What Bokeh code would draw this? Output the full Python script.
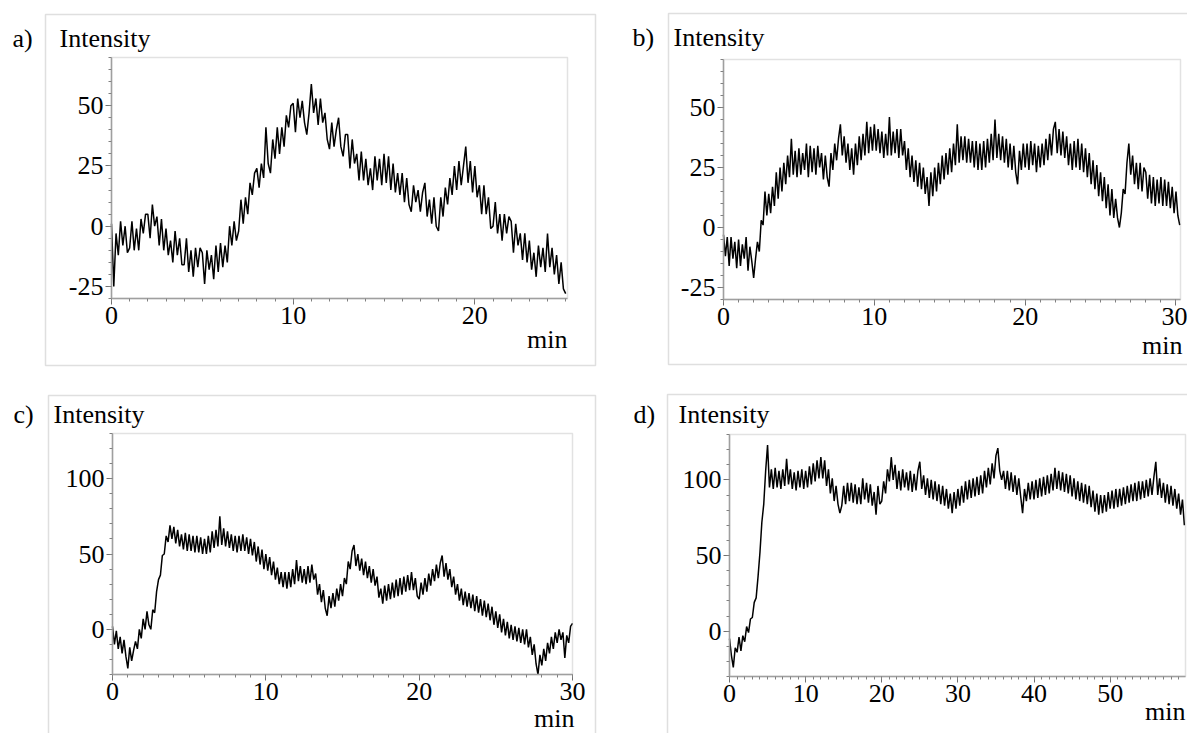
import numpy as np
from bokeh.plotting import figure
from bokeh.models import FixedTicker, Label, BoxAnnotation, Range1d
from bokeh.layouts import column, row
from bokeh.embed import file_html
from bokeh.resources import INLINE

# ---------------- data ----------------
# panel a: intensity sampled every 0.125 min, 0 .. 25 min
a_end = 25.0
a_vals = [1, -25, -3, -12, 2, -8, 0, -11,
          -9, 2, -10, -1, -10, 3, -3, 5,
          5, -5, 9, 0, 4, -8, 3, -10,
          -1, -12, -6, -15, -2, -12, -5, -16,
          -16, -5, -19, -10, -21, -9, -17, -9,
          -11, -24, -10, -18, -12, -22, -8, -19,
          -7, -17, -8, -15, 0, -8, 2, -6,
          -2, 11, 1, 12, 5, 18, 13, 22,
          24, 16, 26, 20, 41, 26, 22, 36,
          28, 41, 30, 41, 33, 46, 41, 50,
          51, 39, 53, 45, 52, 43, 38, 47,
          59, 47, 53, 42, 53, 43, 47, 36,
          32, 43, 33, 40, 45, 33, 29, 38,
          38, 24, 36, 26, 30, 19, 31, 19,
          28, 17, 24, 15, 29, 19, 28, 17,
          30, 18, 29, 15, 26, 14, 22, 13,
          22, 10, 20, 9, 6, 17, 10, 15,
          6, 14, 18, 4, 11, 1, 12, 0,
          -2, 12, 4, 16, 9, 20, 13, 25,
          15, 27, 17, 25, 33, 18, 27, 14,
          25, 12, 17, 5, 17, 5, 12, -1,
          0, 10, -3, 5, -6, 5, -3, 4,
          2, -11, 1, -8, -3, -14, -3, -15,
          -6, -18, -11, -21, -8, -17, -9, -19,
          -3, -17, -9, -20, -12, -24, -15, -26,
          -28]

# panel b: every 0.125 min, 0 .. 30.25 min
b_end = 30.25
b_vals = [-3, -12, -4, -16, -4, -13, -6, -17,
          -5, -16, -7, -13, -4, -18, -8, -14,
          -21, -13, -6, -10, 3, 1, 15, 5,
          14, 6, 17, 9, 23, 12, 25, 15,
          27, 18, 30, 21, 37, 22, 32, 21,
          33, 22, 31, 24, 35, 21, 34, 23,
          33, 22, 34, 25, 31, 20, 30, 21,
          17, 31, 24, 35, 28, 37, 43, 30,
          38, 27, 35, 24, 33, 22, 35, 26,
          38, 28, 39, 30, 44, 31, 42, 32,
          43, 32, 41, 31, 40, 29, 39, 30,
          46, 30, 40, 31, 41, 29, 41, 30,
          36, 24, 33, 21, 30, 19, 28, 17,
          27, 16, 25, 14, 21, 9, 23, 13,
          25, 15, 27, 18, 30, 20, 31, 22,
          33, 23, 35, 26, 43, 27, 38, 28,
          38, 27, 37, 27, 36, 25, 36, 24,
          35, 24, 36, 25, 37, 27, 39, 28,
          45, 29, 39, 28, 38, 27, 37, 25,
          35, 24, 34, 23, 18, 32, 24, 35,
          25, 35, 24, 36, 26, 35, 23, 34,
          25, 35, 26, 37, 28, 39, 30, 41,
          44, 31, 41, 30, 40, 29, 38, 26,
          35, 24, 36, 25, 37, 24, 35, 23,
          33, 21, 31, 18, 28, 16, 26, 13,
          23, 11, 21, 8, 18, 5, 16, 4,
          12, 4, 0, 6, 16, 14, 27, 35,
          22, 30, 18, 27, 16, 27, 15, 25,
          23, 12, 22, 10, 21, 9, 20, 10,
          21, 9, 20, 9, 19, 8, 17, 6,
          15, 5, 1]

# panel c: every 0.125 min, 0 .. 30 min
c_end = 30.0
c_vals = [2, -10, -1, -13, -5, -16, -7, -18,
          -26, -12, -21, -14, -8, -13, 0, -6,
          7, 0, 12, 3, 0, 13, 11, 25,
          33, 36, 49, 50, 62, 58, 69, 60,
          68, 57, 66, 55, 63, 53, 64, 52,
          63, 52, 62, 51, 62, 51, 61, 50,
          60, 50, 62, 51, 65, 54, 66, 55,
          75, 56, 67, 55, 65, 54, 63, 52,
          62, 51, 62, 52, 63, 52, 61, 50,
          60, 49, 58, 45, 55, 43, 53, 40,
          50, 39, 48, 36, 45, 33, 41, 30,
          38, 28, 38, 27, 38, 28, 40, 30,
          46, 32, 42, 31, 40, 30, 42, 31,
          43, 33, 37, 23, 30, 18, 26, 14,
          9, 22, 14, 24, 15, 27, 19, 30,
          22, 34, 30, 45, 40, 52, 56, 42,
          50, 39, 47, 36, 45, 34, 42, 31,
          40, 29, 35, 21, 27, 17, 29, 19,
          30, 20, 31, 21, 33, 22, 34, 23,
          35, 25, 36, 26, 38, 26, 34, 22,
          20, 31, 23, 34, 25, 37, 29, 40,
          32, 43, 34, 44, 49, 35, 44, 33,
          40, 28, 35, 23, 30, 19, 27, 16,
          25, 15, 24, 14, 23, 12, 22, 11,
          20, 9, 19, 8, 17, 6, 15, 3,
          12, 1, 10, -2, 7, -4, 5, -6,
          3, -7, 2, -8, 1, -9, 0, -10,
          0, -12, -5, -17, -10, -23, -30, -17,
          -24, -13, -21, -9, -16, -5, -13, -2,
          -9, 0, -7, -2, -19, -4, -9, 2,
          4]

# panel d: every 0.25 min, 0 .. 59.75 min
d_end = 59.75
d_vals = [-5, -16, -24, -11, -14, -4, -13, -3,
          -7, 3, -1, 8, 9, 19, 22, 36,
          52, 72, 84, 106, 123, 95, 107, 94,
          108, 95, 106, 94, 107, 96, 114, 97,
          107, 94, 105, 93, 106, 95, 107, 94,
          106, 95, 109, 97, 111, 99, 113, 101,
          115, 101, 113, 96, 107, 91, 101, 86,
          96, 84, 78, 83, 96, 84, 98, 86,
          98, 85, 97, 84, 95, 84, 101, 87,
          98, 85, 97, 83, 92, 77, 96, 84,
          86, 99, 91, 107, 99, 115, 100, 110,
          94, 106, 93, 107, 95, 105, 93, 106,
          92, 104, 93, 106, 112, 94, 103, 90,
          101, 88, 100, 87, 99, 86, 97, 84,
          96, 83, 94, 81, 91, 78, 92, 81,
          94, 83, 96, 85, 99, 87, 100, 88,
          101, 89, 102, 90, 103, 91, 106, 95,
          108, 97, 111, 101, 116, 121, 106, 100,
          106, 94, 106, 93, 105, 92, 103, 90,
          101, 89, 78, 94, 86, 98, 87, 99,
          87, 100, 88, 101, 89, 102, 90, 103,
          91, 104, 93, 108, 94, 106, 93, 105,
          92, 104, 91, 103, 89, 101, 87, 99,
          86, 98, 85, 97, 84, 96, 82, 93,
          79, 91, 77, 90, 78, 90, 79, 92,
          81, 93, 81, 94, 82, 94, 83, 95,
          84, 96, 85, 97, 86, 98, 86, 99,
          87, 99, 88, 100, 89, 101, 90, 102,
          112, 90, 101, 88, 98, 85, 97, 84,
          96, 83, 94, 81, 91, 77, 87, 70]

a_yticks = [-25, 0, 25, 50]
b_yticks = [-25, 0, 25, 50]
c_yticks = [0, 50, 100]
d_yticks = [0, 50, 100]
a_xticks = [0, 10, 20]
b_xticks = [0, 10, 20, 30]
c_xticks = [0, 10, 20, 30]
d_xticks = [0, 10, 20, 30, 40, 50]

FONT = "Liberation Serif"
FS = "26px"
GREY = "#a0a0a0"
BOX_GREY = "#959595"
LBL_SHIFT = 8   # Bokeh draws canvas labels this far below the given baseline


def panel(W, H, frame_px, xr, yr, xt, xminor, yt, yminor, vals, end,
          tag, tag_x, title_x, base_y, min_x, min_y, box):
    fl, fr, ft, fb = frame_px
    x0, x1 = xr
    y0, y1 = yr
    sx = (x1 - x0) / (fr - fl)
    sy = (y1 - y0) / (fb - ft)
    x_range = Range1d(x0 - fl * sx, x1 + (W - fr) * sx)
    y_range = Range1d(y0 - (H - fb) * sy, y1 + ft * sy)

    p = figure(width=W, height=H, x_range=x_range, y_range=y_range,
               output_backend="svg", toolbar_location=None, min_border=0)
    p.xgrid.visible = False
    p.ygrid.visible = False
    p.outline_line_color = None
    p.background_fill_color = "white"
    p.border_fill_color = "white"

    p.xaxis.fixed_location = y0
    p.xaxis.bounds = (x0, x1)
    p.yaxis.fixed_location = x0
    p.yaxis.bounds = (y0, y1)
    p.xaxis.ticker = FixedTicker(ticks=xt, minor_ticks=xminor)
    p.yaxis.ticker = FixedTicker(ticks=yt, minor_ticks=yminor)
    p.yaxis.major_label_overrides = {v: str(v) for v in yt}
    for ax in (p.xaxis[0], p.yaxis[0]):
        ax.axis_line_color = GREY
        ax.axis_line_width = 1.5
        ax.major_tick_line_color = "#707070"
        ax.minor_tick_line_color = "#808080"
        ax.major_tick_in = 0
        ax.minor_tick_in = 0
        ax.major_tick_out = 6
        ax.minor_tick_out = 3
        ax.major_label_text_font = FONT
        ax.major_label_text_font_size = FS
        ax.major_label_text_color = "black"
    p.xaxis.major_label_standoff = 2
    p.yaxis.major_label_standoff = 2

    t = np.linspace(0, end, len(vals))
    p.line(t, vals, line_color="black", line_width=1.5)

    # inner plot frame
    p.add_layout(BoxAnnotation(left=x0, right=x1, bottom=y0, top=y1,
                               fill_alpha=0, fill_color=None, line_color=GREY, line_width=1.5))
    # outer panel box
    p.add_layout(BoxAnnotation(left=box[0], right=box[1], top=box[2], bottom=box[3],
                               left_units="canvas", right_units="canvas",
                               top_units="canvas", bottom_units="canvas",
                               fill_alpha=0, fill_color=None, line_color=BOX_GREY, line_width=1.5))
    for txt, x, y, align in ((tag, tag_x, base_y, "left"), ("Intensity", title_x, base_y, "left"),
                             ("min", min_x, min_y, "right")):
        p.add_layout(Label(x=x, y=y - LBL_SHIFT, x_units="canvas", y_units="canvas", text=txt,
                           text_font=FONT, text_font_size=FS, text_color="black",
                           text_align=align, text_baseline="alphabetic"))
    return p


pa = panel(600, 380, (111, 567, 57, 298), (0, 25.1), (-30, 70), a_xticks, list(range(0, 26)),
           a_yticks, list(range(-30, 71, 5)), a_vals, a_end,
           "a)", 12, 59, 46, 567, 347, (45, 595, 14, 365))
pb = panel(587, 380, (123, 580, 59, 299), (0, 30.3), (-30, 70), b_xticks, list(range(0, 31)),
           b_yticks, list(range(-30, 71, 5)), b_vals, b_end,
           "b)", 32, 73, 45, 582, 353, (68, 620, 13, 364))
pc = panel(600, 353, (112, 572, 53, 294), (0, 30), (-30, 130), c_xticks, list(range(0, 31)),
           c_yticks, list(range(-30, 131, 10)), c_vals, c_end,
           "c)", 13, 53, 42, 574, 346, (48, 595, 15, 400))
pd_ = panel(587, 353, (129, 585, 54, 296), (0, 59.9), (-30, 130), d_xticks, list(range(0, 60)),
            d_yticks, list(range(-30, 131, 10)), d_vals, d_end,
            "d)", 33, 78, 42, 585, 339, (67, 620, 14, 400))

layout = column(row(pa, pb, spacing=0), row(pc, pd_, spacing=0), spacing=0)
open("out.html", "w").write(file_html(layout, INLINE))
